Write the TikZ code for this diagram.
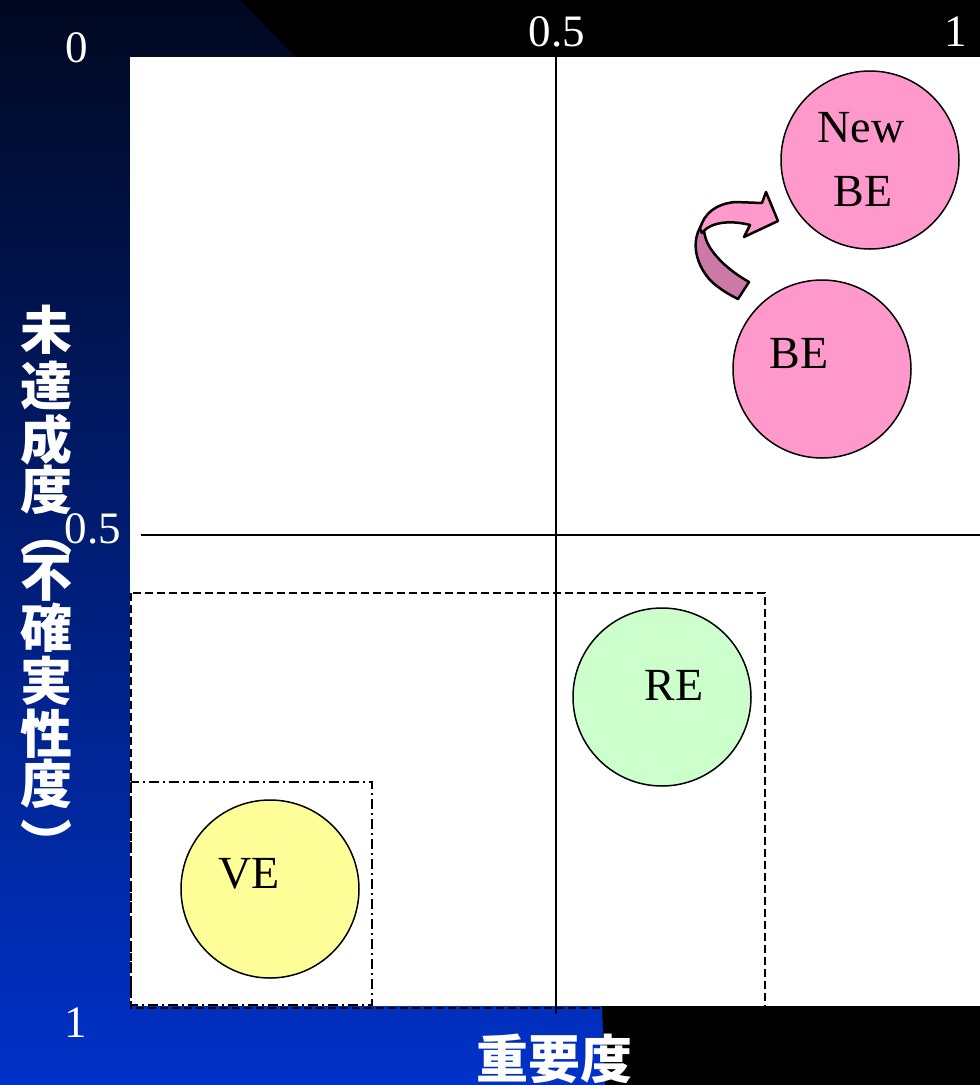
\documentclass[tikz,border=0pt]{standalone}
\usepackage{fontspec}
\setmainfont{Liberation Serif}
\newfontfamily\cjk{Noto Sans CJK JP}
\definecolor{pinkc}{HTML}{FF99CC}
\definecolor{pinkd}{HTML}{CC79A7}
\definecolor{greenc}{HTML}{CCFFCC}
\definecolor{yellowc}{HTML}{FFFF99}
\definecolor{navytop}{RGB}{0,8,32}
\definecolor{bluebot}{RGB}{0,50,200}
\begin{document}
\begin{tikzpicture}[x=1pt,y=-1pt,
  bubble/.style={circle, draw=black, line width=1.5pt, minimum size=178pt, inner sep=0pt},
  ticklab/.style={text=white, font=\fontsize{45}{54}\selectfont, anchor=base, inner sep=0pt},
  bublab/.style={text=black, font=\fontsize{46}{55}\selectfont, anchor=base, inner sep=0pt},
  vch/.style={text=white, font=\cjk\bfseries\fontsize{52}{60}\selectfont, inner sep=0pt},
  axisline/.style={draw=black, line width=1.5pt},
  dashbox/.style={draw=black, line width=1.6pt, dash pattern=on 8pt off 4pt},
  dashdotbox/.style={draw=black, line width=1.6pt, dash pattern=on 10pt off 4pt on 2pt off 4pt},
  arrowpart/.style={draw=black, line width=2.5pt, line join=round}
]
\useasboundingbox (0,0) rectangle (980,1085);
% background
\fill[black] (0,0) rectangle (980,1085);
\shade[top color=navytop, bottom color=bluebot]
  (0,0) -- (240,0) -- (295,57) -- (602,1007) -- (605,1085) -- (0,1085) -- cycle;
\fill[white] (130,57) rectangle (980,1006);
% boxes
\draw[dashbox] (131,593) rectangle (765,1008);
\draw[dashdotbox] (131,782) rectangle (372,1005);
% axes
\coordinate (vtop) at (556,57);
\coordinate (vbot) at (556,1014);
\coordinate (hleft) at (141,535);
\coordinate (hright) at (980,535);
\draw[axisline] (vtop) -- (vbot);
\draw[axisline] (hleft) -- (hright);
% bubbles
\node[bubble, fill=pinkc] (newbe) at (870,160) {};
\node[bubble, fill=pinkc] (be) at (822,369) {};
\node[bubble, fill=greenc] (re) at (662,697) {};
\node[bubble, fill=yellowc] (ve) at (270,889) {};
\node[bublab] (tnew) at (861,142) {New};
\node[bublab] (tnewbe) at (863,206) {BE};
\node[bublab] (tbe) at (799,368) {BE};
\node[bublab] (tre) at (674,700) {RE};
\node[bublab] (tve) at (249,888) {VE};
% curved arrow
\filldraw[arrowpart, fill=pinkd]
  (701,226) .. controls (692,240) and (694,262) .. (710,280)
  .. controls (718,288) and (728,294) .. (738,299)
  -- (749,282)
  .. controls (735,274) and (722,264) .. (713,252)
  .. controls (707,244) and (704,236) .. (704,228) -- cycle;
\filldraw[arrowpart, fill=pinkc]
  (700,229) .. controls (704,213) and (716,204) .. (735,202)
  -- (762,203) -- (766,192) -- (778,221) -- (744,237) -- (750,225)
  .. controls (735,221) and (712,220) .. (702,233) -- cycle;
% tick labels
\node[ticklab] (t0) at (77,62) {0};
\node[ticklab] (thalf) at (557,46) {0.5};
\node[ticklab] (tone) at (956,46) {1};
\node[ticklab] (lhalf) at (93,543) {0.5};
\node[ticklab] (lone) at (76,1037) {1};
% vertical axis title
\node[vch] (c1) at (46,330) {未};
\node[vch] (c2) at (46,385) {達};
\node[vch] (c3) at (46,440) {成};
\node[vch] (c4) at (46,490) {度};
\node[vch] (c5) at (46,548) {︵};
\node[vch] (c6) at (46,578) {不};
\node[vch] (c7) at (46,628) {確};
\node[vch] (c8) at (46,681) {実};
\node[vch] (c9) at (46,734) {性};
\node[vch] (c10) at (46,784) {度};
\node[vch] (c11) at (46,842) {︶};
% horizontal axis title
\node[vch] (xtitle) at (554,1059) {重要度};
\end{tikzpicture}
\end{document}
